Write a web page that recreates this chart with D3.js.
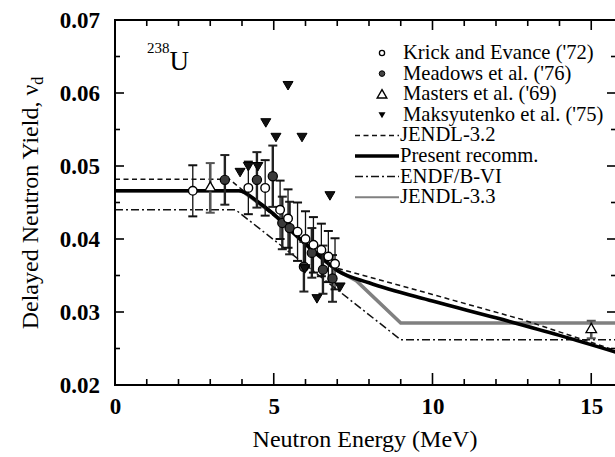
<!DOCTYPE html>
<html>
<head>
<meta charset="utf-8">
<script src="https://cdn.jsdelivr.net/npm/d3@7"></script>
<style>
  html, body { margin: 0; padding: 0; background: #fff; }
  svg { display: block; }
  svg text { font-family: 'Liberation Serif', 'Times New Roman', Times, 'DejaVu Serif', serif; }
</style>
</head>
<body>
<svg id="chart" width="615" height="457"></svg>
<script>
// Delayed neutron yield of U-238 versus incident neutron energy

// Evaluations (energy in MeV, yield per fission)
const presentE  = [0, 3.9, 4.5, 5.0, 5.5, 6.0, 6.5, 7.0, 8.0, 10, 12, 14, 16];
const presentNu = [0.0466, 0.0466, 0.0451, 0.0434, 0.0413, 0.0393, 0.0374, 0.0357, 0.0340, 0.0315, 0.0292, 0.0268, 0.0242];

const jendl32E  = [0, 3.6, 7.0, 10, 12.8, 16];
const jendl32Nu = [0.0482, 0.0482, 0.0360, 0.0324, 0.0290, 0.0244];

const endfE  = [0, 3.8, 9.0, 16];
const endfNu = [0.0440, 0.0440, 0.0262, 0.0262];

const jendl33E  = [0, 4.0, 5.0, 6.0, 7.0, 7.6, 9.0, 16];
const jendl33Nu = [0.0466, 0.0466, 0.0434, 0.0393, 0.0357, 0.0343, 0.0285, 0.0285];

// Measurements: energy, yield, uncertainty
const krickE   = [2.45, 4.2, 4.73, 5.2, 5.45, 5.75, 6.0, 6.25, 6.5, 6.72, 6.93];
const krickNu  = [0.0466, 0.0470, 0.0470, 0.0440, 0.0428, 0.0410, 0.0400, 0.0392, 0.0385, 0.0376, 0.0366];
const krickErr = [0.0035, 0.0036, 0.0038, 0.0040, 0.0040, 0.0040, 0.0038, 0.0038, 0.0036, 0.0035, 0.0035];

const meadowsE   = [3.46, 4.47, 4.97, 5.27, 5.5, 5.95, 6.2, 6.55, 6.85];
const meadowsNu  = [0.0481, 0.0481, 0.0486, 0.0422, 0.0415, 0.0362, 0.0381, 0.0358, 0.0346];
const meadowsErr = [0.0034, 0.0038, 0.0042, 0.0036, 0.0036, 0.0034, 0.0034, 0.0033, 0.0032];

const mastersE   = [3.0, 15.0];
const mastersNu  = [0.0470, 0.0276];
const mastersErr = [0.0034, 0.0012];

const maksE  = [3.94, 4.2, 4.5, 4.75, 5.07, 5.45, 5.89, 5.98, 6.36, 6.77, 7.09];
const maksNu = [0.0492, 0.0500, 0.0500, 0.0560, 0.0540, 0.0611, 0.0540, 0.0360, 0.0319, 0.0460, 0.0335];

// Axis ticks
const xMajor = [0, 5, 10, 15];
const xMinor = d3.range(0, 16, 1);
const yMajor = [0.02, 0.03, 0.04, 0.05, 0.06, 0.07];
const yMinor = d3.range(0, 11).map(i => 0.02 + i * 0.005);

const legendLabels = [
  "Krick and Evance ('72)",
  "Meadows et al. ('76)",
  "Masters et al. ('69)",
  "Maksyutenko et al. ('75)",
  "JENDL-3.2",
  "Present recomm.",
  "ENDF/B-VI",
  "JENDL-3.3"
];

const FONT = "'Liberation Serif', 'Times New Roman', Times, 'DejaVu Serif', serif";

const svg = d3.select("#chart");
const pLeft = 115, pRight = 616, pTop = 20, pBottom = 385;
const x = d3.scaleLinear().domain([0, 15.78]).range([pLeft, pRight]);
const y = d3.scaleLinear().domain([0.02, 0.07]).range([pBottom, pTop]);

const plot = svg.append("g");
plot.append("clipPath").attr("id", "clip")
  .append("rect").attr("x", pLeft).attr("y", pTop).attr("width", pRight - pLeft).attr("height", pBottom - pTop);
const inner = plot.append("g").attr("clip-path", "url(#clip)");

// Evaluation curves
const line = d3.line().x(d => x(d[0])).y(d => y(d[1]));
const curve = d3.line().x(d => x(d[0])).y(d => y(d[1])).curve(d3.curveMonotoneX);
const zip = (a, b) => a.map((v, i) => [v, b[i]]);

const styles = {
  jendl33: { stroke: "#808080", width: 3.6, dash: null },
  endf:    { stroke: "#111", width: 1.5, dash: "8,3,2,3" },
  jendl32: { stroke: "#111", width: 1.5, dash: "5,3.5" },
  present: { stroke: "#000", width: 3.6, dash: null }
};

function drawCurve(pts, st, gen) {
  inner.append("path").datum(pts)
    .attr("d", gen)
    .attr("fill", "none")
    .attr("stroke", st.stroke)
    .attr("stroke-width", st.width)
    .attr("stroke-dasharray", st.dash);
}
drawCurve(zip(jendl33E, jendl33Nu), styles.jendl33, line);
drawCurve(zip(endfE, endfNu), styles.endf, line);
drawCurve(zip(jendl32E, jendl32Nu), styles.jendl32, line);
drawCurve(zip(presentE, presentNu), styles.present, curve);

// Error bars
function errorBars(E, nu, err, color, width) {
  const g = inner.append("g").attr("stroke", color).attr("stroke-width", width);
  E.forEach((e, i) => {
    const cx = x(e), y0 = y(nu[i] - err[i]), y1 = y(nu[i] + err[i]);
    g.append("line").attr("x1", cx).attr("x2", cx).attr("y1", y0).attr("y2", y1);
    g.append("line").attr("x1", cx - 4.5).attr("x2", cx + 4.5).attr("y1", y0).attr("y2", y0).attr("stroke-width", 2);
    g.append("line").attr("x1", cx - 4.5).attr("x2", cx + 4.5).attr("y1", y1).attr("y2", y1).attr("stroke-width", 2);
  });
}
errorBars(mastersE, mastersNu, mastersErr, "#555", 2.6);
errorBars(meadowsE, meadowsNu, meadowsErr, "#222", 2.4);
errorBars(krickE, krickNu, krickErr, "#111", 1.3);

// Markers
const triUp = d3.symbol().type(d3.symbolTriangle).size(48);
const triDown = "M-5,-3.5 L5,-3.5 L0,5 Z";

function drawMarker(g, kind, cx, cy) {
  if (kind === "krick") {
    g.append("circle").attr("cx", cx).attr("cy", cy).attr("r", 4.3)
      .attr("fill", "#fff").attr("stroke", "#000").attr("stroke-width", 1.4);
  } else if (kind === "meadows") {
    g.append("circle").attr("cx", cx).attr("cy", cy).attr("r", 4.6)
      .attr("fill", "#3a3a3a").attr("stroke", "#000").attr("stroke-width", 1.2);
  } else if (kind === "masters") {
    g.append("path").attr("d", triUp).attr("transform", `translate(${cx},${cy})`)
      .attr("fill", "#fff").attr("stroke", "#000").attr("stroke-width", 1.3);
  } else {
    g.append("path").attr("d", triDown).attr("transform", `translate(${cx},${cy})`)
      .attr("fill", "#111").attr("stroke", "#000").attr("stroke-width", 1);
  }
}
const marks = inner.append("g");
meadowsE.forEach((e, i) => drawMarker(marks, "meadows", x(e), y(meadowsNu[i])));
krickE.forEach((e, i) => drawMarker(marks, "krick", x(e), y(krickNu[i])));
mastersE.forEach((e, i) => drawMarker(marks, "masters", x(e), y(mastersNu[i])));
maksE.forEach((e, i) => drawMarker(marks, "maks", x(e), y(maksNu[i])));

// Frame with inward ticks on all four sides
const frame = svg.append("g").attr("stroke", "#000").attr("fill", "none");
frame.append("rect").attr("x", pLeft).attr("y", pTop).attr("width", pRight - pLeft).attr("height", pBottom - pTop)
  .attr("stroke-width", 2);
const isMajorX = v => xMajor.includes(v);
xMinor.forEach(v => {
  const px = x(v);
  const lb = isMajorX(v) ? 12 : 6, lt = isMajorX(v) ? 10 : 6;
  frame.append("line").attr("x1", px).attr("x2", px).attr("y1", pBottom).attr("y2", pBottom - lb).attr("stroke-width", 1.6);
  frame.append("line").attr("x1", px).attr("x2", px).attr("y1", pTop).attr("y2", pTop + lt).attr("stroke-width", 1.6);
});
const isMajorY = v => yMajor.some(t => Math.abs(t - v) < 1e-9);
yMinor.forEach(v => {
  const py = y(v);
  const l = isMajorY(v) ? 9 : 5;
  frame.append("line").attr("x1", pLeft).attr("x2", pLeft + l).attr("y1", py).attr("y2", py).attr("stroke-width", 1.6);
  frame.append("line").attr("x1", pRight).attr("x2", pRight - l).attr("y1", py).attr("y2", py).attr("stroke-width", 1.6);
});

// Tick labels
const xAxis = d3.axisBottom(x).tickValues(xMajor).tickSize(0).tickPadding(13).tickFormat(d3.format("d"));
const gx = svg.append("g").attr("transform", `translate(0,${pBottom})`).call(xAxis);
gx.attr("font-family", null);
gx.select(".domain").remove();
gx.selectAll("text").style("font-family", FONT).attr("font-size", 23)
  .attr("font-weight", "bold").attr("fill", "#000");

const yAxis = d3.axisLeft(y).tickValues(yMajor).tickSize(0).tickPadding(15).tickFormat(d3.format(".2f"));
const gy = svg.append("g").attr("transform", `translate(${pLeft},0)`).call(yAxis);
gy.attr("font-family", null);
gy.select(".domain").remove();
gy.selectAll("text").style("font-family", FONT).attr("font-size", 23)
  .attr("font-weight", "bold").attr("fill", "#000");

// Axis titles
svg.append("text").attr("x", 365).attr("y", 447).attr("text-anchor", "middle")
  .style("font-family", FONT).attr("font-size", 24).attr("fill", "#000").text("Neutron Energy (MeV)");

const yt = svg.append("text").attr("transform", "translate(38,203) rotate(-90)")
  .style("font-family", FONT).attr("text-anchor", "middle").attr("font-size", 24).attr("fill", "#000");
yt.append("tspan").text("Delayed Neutron Yield, \u03BD");
yt.append("tspan").attr("font-size", 16).attr("dy", 5).text("d");

// Nuclide label
const nl = svg.append("text").attr("x", 147).attr("y", 70).style("font-family", FONT).attr("fill", "#000");
nl.append("tspan").attr("font-size", 15).attr("dy", -17).text("238");
nl.append("tspan").attr("font-size", 27).attr("dy", 17).text("U");

// Legend
const legend = svg.append("g");
const legendKinds = ["krick", "meadows", "masters", "maks"];
const lineKinds = ["jendl32", "present", "endf", "jendl33"];
const rowY = i => 53 + i * 20.6;
legendLabels.forEach((label, i) => {
  const cy = rowY(i);
  if (i < 4) {
    const kind = legendKinds[i];
    if (kind === "krick") {
      legend.append("circle").attr("cx", 382).attr("cy", cy).attr("r", 2.6)
        .attr("fill", "#fff").attr("stroke", "#000").attr("stroke-width", 1.3);
    } else if (kind === "meadows") {
      legend.append("circle").attr("cx", 382).attr("cy", cy).attr("r", 2.8)
        .attr("fill", "#444").attr("stroke", "#000").attr("stroke-width", 1);
    } else if (kind === "masters") {
      legend.append("path").attr("d", d3.symbol().type(d3.symbolTriangle).size(40))
        .attr("transform", `translate(382,${cy + 1})`)
        .attr("fill", "#fff").attr("stroke", "#000").attr("stroke-width", 1.4);
    } else {
      legend.append("path").attr("d", "M-3.5,-2.5 L3.5,-2.5 L0,3.5 Z")
        .attr("transform", `translate(382,${cy})`).attr("fill", "#000");
    }
    legend.append("text").attr("x", 403).attr("y", cy + 6).style("font-family", FONT)
      .attr("font-size", 20.6).attr("fill", "#000").text(label);
  } else {
    const st = styles[lineKinds[i - 4]];
    legend.append("line").attr("x1", 355).attr("x2", 399).attr("y1", cy).attr("y2", cy)
      .attr("stroke", st.stroke).attr("stroke-width", lineKinds[i - 4] === "jendl33" ? 2 : st.width)
      .attr("stroke-dasharray", st.dash);
    legend.append("text").attr("x", 400).attr("y", cy + 6).style("font-family", FONT)
      .attr("font-size", 20.6).attr("fill", "#000").text(label);
  }
});
</script>
</body>
</html>
